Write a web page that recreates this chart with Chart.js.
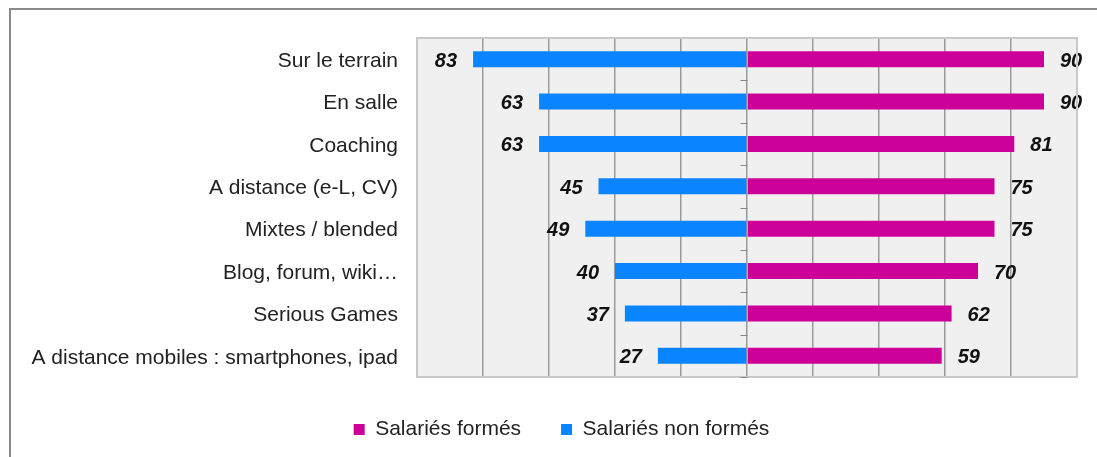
<!DOCTYPE html>
<html>
<head>
<meta charset="utf-8">
<script src="https://cdn.jsdelivr.net/npm/chart.js@4"></script>
<style>
  html, body { margin: 0; padding: 0; background: #fff; overflow: hidden; }
  #frame { position: absolute; left: 9px; top: 8px; width: 1200px; height: 600px; border-left: 2px solid #8a8a8a; border-top: 2px solid #8a8a8a; }
  #chart { position: absolute; left: 0; top: 0; }
</style>
</head>
<body>
<div id="frame"></div>
<canvas id="chart" width="1097" height="457"></canvas>
<script>
// Modes de formation
const categories = ["Sur le terrain", "En salle", "Coaching", "A distance (e-L, CV)", "Mixtes / blended", "Blog, forum, wiki…", "Serious Games", "A distance mobiles : smartphones, ipad"];
const formes = [90, 90, 81, 75, 75, 70, 62, 59];
const nonFormes = [83, 63, 63, 45, 49, 40, 37, 27];
const xTicks = [-100, -80, -60, -40, -20, 0, 20, 40, 60, 80, 100];

const fontFamily = "'Liberation Sans', Arial, sans-serif";

// fond gris, cadre et petites graduations sur l'axe central
const plotDeco = {
  id: 'plotDeco',
  afterLayout(chart) {
    // legende un peu decalee, comme dans l'original
    chart.legend.left += 17;
    chart.legend.right += 17;
    chart.legend.top += 2;
    chart.legend.bottom += 2;
  },
  beforeDraw(chart) {
    const a = chart.chartArea, ctx = chart.ctx;
    ctx.save();
    ctx.fillStyle = '#f0f0f0';
    ctx.fillRect(a.left, a.top, a.right - a.left, a.bottom - a.top);
    ctx.restore();
  },
  afterDraw(chart) {
    const a = chart.chartArea, ctx = chart.ctx;
    const x0 = Math.round(chart.scales.x.getPixelForValue(0)) + 0.5;
    const n = categories.length;
    const step = (a.bottom - a.top) / n;
    ctx.save();
    ctx.strokeStyle = '#c8c8c8';
    ctx.lineWidth = 2;
    ctx.strokeRect(a.left, a.top, a.right - a.left, a.bottom - a.top);
    ctx.strokeStyle = '#888';
    ctx.lineWidth = 1;
    for (let i = 1; i <= n; i++) {
      const y = Math.round(a.top + i * step) + 0.5;
      ctx.beginPath();
      ctx.moveTo(x0 - 7, y);
      ctx.lineTo(x0, y);
      ctx.stroke();
    }
    ctx.restore();
  }
};

// valeurs au bout des barres
const valueLabels = {
  id: 'valueLabels',
  afterDatasetsDraw(chart) {
    const ctx = chart.ctx;
    ctx.save();
    ctx.font = "italic bold 20px " + fontFamily;
    ctx.fillStyle = '#111';
    ctx.textBaseline = 'middle';
    chart.data.datasets.forEach(function(ds, di) {
      chart.getDatasetMeta(di).data.forEach(function(bar, i) {
        const v = ds.data[i];
        if (v < 0) {
          ctx.textAlign = 'right';
          ctx.fillText(String(-v), bar.x - 16, bar.y + 2);
        } else {
          ctx.textAlign = 'left';
          ctx.fillText(String(v), bar.x + 16, bar.y + 2);
        }
      });
    });
    ctx.restore();
  }
};

const ctx = document.getElementById('chart').getContext('2d');
new Chart(ctx, {
  type: 'bar',
  data: {
    labels: categories,
    datasets: [
      {
        label: 'Salariés formés',
        data: formes,
        backgroundColor: '#cc0099',
        categoryPercentage: 1,
        barPercentage: 0.38
      },
      {
        label: 'Salariés non formés',
        data: nonFormes.map(v => -v),
        backgroundColor: '#0a85ff',
        categoryPercentage: 1,
        barPercentage: 0.38
      }
    ]
  },
  options: {
    indexAxis: 'y',
    responsive: false,
    animation: false,
    layout: {
      padding: { left: 12, right: 20, top: 38, bottom: 9 }
    },
    scales: {
      x: {
        stacked: true,
        min: -100,
        max: 100,
        afterBuildTicks: function(scale) {
          scale.ticks = xTicks.map(v => ({ value: v }));
        },
        ticks: { display: false },
        border: { display: false },
        grid: {
          drawTicks: false,
          lineWidth: 1.5,
          color: function(c) {
            return Math.abs(c.tick.value) === 100 ? 'rgba(0,0,0,0)' : '#999';
          }
        }
      },
      y: {
        stacked: true,
        afterFit: function(scale) {
          scale.width = 405;
        },
        border: { display: false },
        grid: { display: false, drawTicks: false },
        ticks: {
          padding: 19,
          labelOffset: 2,
          color: '#222',
          font: { family: fontFamily, size: 21 }
        }
      }
    },
    plugins: {
      legend: {
        position: 'bottom',
        labels: {
          boxWidth: 11,
          boxHeight: 11,
          padding: 40,
          color: '#222',
          font: { family: fontFamily, size: 21 }
        }
      },
      tooltip: { enabled: false }
    }
  },
  plugins: [plotDeco, valueLabels]
});
</script>
</body>
</html>
